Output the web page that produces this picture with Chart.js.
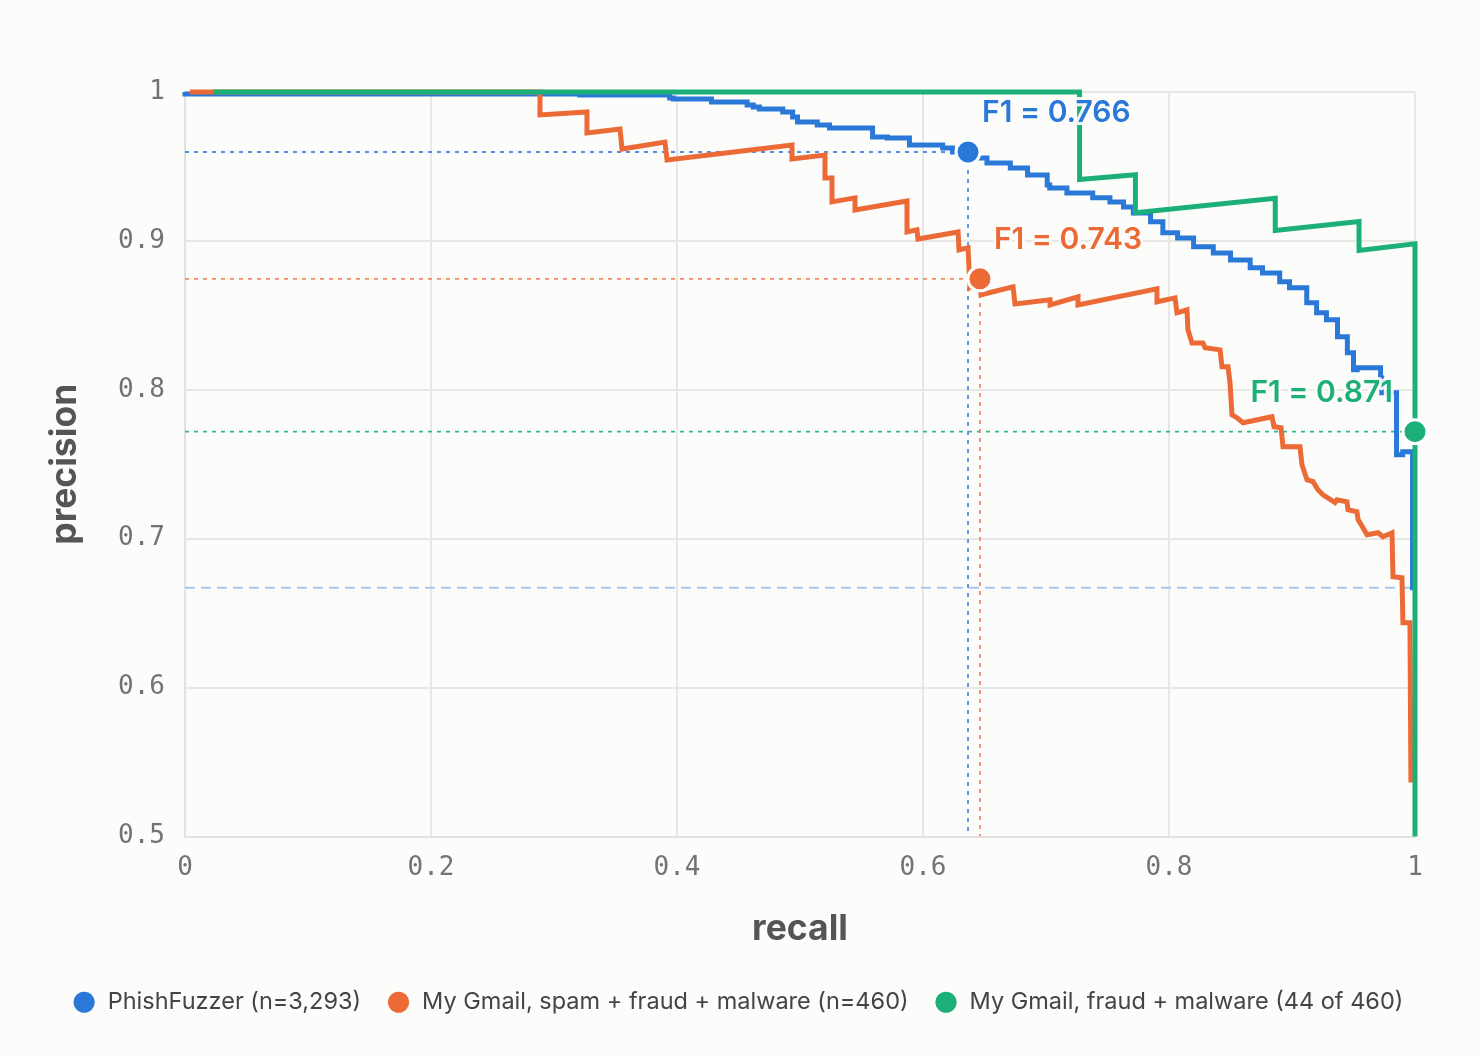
<!DOCTYPE html>
<html><head><meta charset="utf-8">
<script src="https://cdn.jsdelivr.net/npm/chart.js@4.4.1/dist/chart.umd.min.js"></script>
<style>html,body{margin:0;padding:0;background:#fcfcfb;} canvas{display:block;}</style>
</head><body>
<canvas id="c" width="1480" height="1056"></canvas>
<script>
// ---------- data ----------
const seriesNames = ['PhishFuzzer (n=3,293)', 'My Gmail, spam + fraud + malware (n=460)', 'My Gmail, fraud + malware (44 of 460)'];
const seriesColors = ['#2a78d8', '#ec6a36', '#1caf7a'];
const guideColors = ['#4f8fe6', '#f08a64', '#35b887'];

const phishRecall = [0, 0.321, 0.394, 0.397, 0.428, 0.429, 0.457, 0.462, 0.467, 0.470, 0.486, 0.494, 0.498, 0.514, 0.524, 0.541, 0.559, 0.571, 0.589, 0.616, 0.624, 0.637, 0.652, 0.671, 0.685, 0.701, 0.703, 0.717, 0.738, 0.752, 0.763, 0.771, 0.785, 0.795, 0.807, 0.820, 0.836, 0.850, 0.866, 0.876, 0.890, 0.898, 0.912, 0.920, 0.928, 0.937, 0.945, 0.950, 0.953, 0.972, 0.973, 0.985, 0.990, 0.998, 1.0];
const phishPrecision = [1, 0.9987, 0.998, 0.996, 0.9953, 0.9933, 0.9933, 0.9913, 0.990, 0.9886, 0.9886, 0.9866, 0.9832, 0.9799, 0.9779, 0.9758, 0.9758, 0.9698, 0.9691, 0.9644, 0.9624, 0.9597, 0.9557, 0.9523, 0.9490, 0.9443, 0.9376, 0.9356, 0.9322, 0.9289, 0.9262, 0.9228, 0.9188, 0.9128, 0.9054, 0.9020, 0.8960, 0.8919, 0.8872, 0.8819, 0.8785, 0.8725, 0.8685, 0.8584, 0.8517, 0.8470, 0.8356, 0.8248, 0.8134, 0.8148, 0.808, 0.798, 0.7564, 0.7584, 0.667];

const spamRecall = [0.004, 0.2886, 0.2886, 0.3268, 0.3268, 0.3537, 0.3553, 0.3902, 0.3919, 0.4935, 0.4935, 0.5203, 0.5203, 0.5260, 0.5260, 0.5447, 0.5447, 0.5870, 0.5870, 0.5951, 0.5959, 0.6285, 0.6293, 0.6366, 0.6382, 0.6463, 0.6472, 0.6732, 0.6748, 0.7033, 0.7033, 0.7260, 0.7260, 0.7902, 0.7902, 0.8049, 0.8065, 0.8146, 0.8154, 0.8187, 0.8276, 0.8293, 0.8415, 0.8431, 0.8480, 0.8496, 0.8512, 0.8553, 0.8602, 0.8837, 0.8854, 0.8911, 0.8927, 0.9065, 0.9081, 0.9122, 0.9171, 0.9211, 0.9252, 0.9350, 0.9366, 0.9447, 0.9455, 0.9528, 0.9537, 0.9577, 0.9610, 0.9699, 0.9740, 0.9813, 0.9821, 0.9894, 0.9902, 0.9959, 0.9967];
const spamPrecision = [1, 1, 0.9846, 0.9866, 0.9725, 0.9752, 0.9617, 0.9664, 0.9544, 0.9644, 0.9550, 0.9577, 0.9423, 0.9423, 0.9262, 0.9289, 0.9208, 0.9268, 0.9060, 0.9074, 0.9013, 0.9060, 0.8940, 0.8953, 0.8691, 0.8745, 0.8638, 0.8691, 0.8577, 0.8604, 0.8570, 0.8624, 0.8570, 0.8678, 0.8591, 0.8617, 0.8517, 0.8537, 0.8403, 0.8315, 0.8315, 0.8282, 0.8268, 0.8154, 0.8154, 0.8047, 0.7832, 0.7812, 0.7779, 0.7819, 0.7752, 0.7745, 0.7617, 0.7617, 0.7497, 0.7396, 0.7383, 0.7329, 0.7295, 0.7242, 0.7262, 0.7248, 0.7195, 0.7181, 0.7128, 0.7074, 0.7027, 0.7040, 0.7013, 0.7040, 0.6745, 0.6738, 0.6436, 0.6436, 0.5362];

const fraudRecall = [0.0227, 0.7273, 0.7273, 0.7727, 0.7727, 0.8864, 0.8864, 0.9545, 0.9545, 1.0, 1.0];
const fraudPrecision = [1, 1, 0.9412, 0.9444, 0.9189, 0.9286, 0.9070, 0.9130, 0.8936, 0.8980, 0.0957];

const bestRecall = [0.6366, 0.6463, 1.0];
const bestPrecision = [0.9597, 0.8745, 0.7719];
const f1Scores = ['0.766', '0.743', '0.871'];
const baselinePrecision = 0.667;

const xTicks = [0, 0.2, 0.4, 0.6, 0.8, 1];
const xTickLabels = ['0', '0.2', '0.4', '0.6', '0.8', '1'];
const yTicks = [0.5, 0.6, 0.7, 0.8, 0.9, 1];
const yTickLabels = ['0.5', '0.6', '0.7', '0.8', '0.9', '1'];
const xMin = 0, xMax = 1, yMin = 0.5, yMax = 1;

// ---------- build ----------
const toPts = (rs, ps) => rs.map((r, i) => ({x: r, y: ps[i]}));
const lineClip = {left: 4, top: 4, right: 4, bottom: 0};
const curve = (i, rs, ps, order, stepped) => ({
  label: seriesNames[i], data: toPts(rs, ps), showLine: true, stepped: stepped,
  borderColor: seriesColors[i], backgroundColor: seriesColors[i], borderWidth: 5,
  pointRadius: 0, pointHoverRadius: 0, order: order, clip: lineClip,
  borderJoinStyle: 'miter', borderCapStyle: 'butt'
});
const guide = (pts, color, dash, width) => ({
  label: '_guide', data: pts, showLine: true, borderColor: color, borderWidth: width,
  borderDash: dash, pointRadius: 0, order: 10
});

const datasets = [
  curve(0, phishRecall, phishPrecision, 3, 'after'),
  curve(1, spamRecall, spamPrecision, 2, false),
  curve(2, fraudRecall, fraudPrecision, 1, false),
  { label: '_markers', data: toPts(bestRecall, bestPrecision), showLine: false, clip: false,
    pointRadius: 12, pointHoverRadius: 12, pointBackgroundColor: seriesColors,
    pointBorderColor: '#ffffff', pointBorderWidth: 3, order: 0 },
  guide([{x: xMin, y: bestPrecision[0]}, {x: bestRecall[0], y: bestPrecision[0]}, {x: bestRecall[0], y: yMin}], guideColors[0], [4, 5], 1.8),
  guide([{x: xMin, y: bestPrecision[1]}, {x: bestRecall[1], y: bestPrecision[1]}, {x: bestRecall[1], y: yMin}], guideColors[1], [4, 5], 1.8),
  guide([{x: xMin, y: bestPrecision[2]}, {x: bestRecall[2], y: bestPrecision[2]}], guideColors[2], [4, 5], 1.8),
  guide([{x: xMin, y: baselinePrecision}, {x: xMax, y: baselinePrecision}], '#a9c6f1', [10, 6], 2)
];

const f1Plugin = {
  id: 'f1labels',
  afterDatasetsDraw(chart) {
    const {ctx, chartArea, scales: {x, y}} = chart;
    ctx.save();
    ctx.font = '600 30px Inter, "Noto Sans", sans-serif';
    ctx.textBaseline = 'middle';
    ctx.textAlign = 'left';
    ctx.lineJoin = 'round';
    bestRecall.forEach((r, i) => {
      const text = 'F1 = ' + f1Scores[i];
      const w = ctx.measureText(text).width;
      let px = x.getPixelForValue(r) + 14;
      px = Math.min(px, chartArea.right - 22 - w);
      const py = y.getPixelForValue(bestPrecision[i]) - 39;
      ctx.strokeStyle = 'rgba(252,252,251,0.9)';
      ctx.lineWidth = 6;
      ctx.strokeText(text, px, py);
      ctx.fillStyle = seriesColors[i];
      ctx.fillText(text, px, py);
    });
    ctx.restore();
  }
};

new Chart(document.getElementById('c'), {
  type: 'scatter',
  data: { datasets },
  plugins: [f1Plugin],
  options: {
    responsive: false, animation: false, devicePixelRatio: 1,
    layout: { padding: { left: 0, right: 0, top: 92, bottom: 32 } },
    plugins: {
      tooltip: { enabled: false },
      legend: {
        position: 'bottom',
        labels: {
          usePointStyle: true, pointStyle: 'circle', boxWidth: 15, boxHeight: 15, padding: 30,
          color: '#444', font: { family: 'Inter, "Noto Sans", sans-serif', size: 23.5 },
          generateLabels(chart) {
            const items = Chart.defaults.plugins.legend.labels.generateLabels(chart);
            return items.filter(it => it.datasetIndex < 3)
              .sort((a, b) => a.datasetIndex - b.datasetIndex)
              .map(it => Object.assign(it, { lineWidth: 0, pointStyle: 'circle', text: '\u2009' + it.text }));
          }
        }
      }
    },
    scales: {
      x: {
        type: 'linear', min: xMin, max: xMax,
        afterBuildTicks: s => { s.ticks = xTicks.map(v => ({value: v})); },
        afterFit: s => { s.height = 124; },
        ticks: { callback: (v) => xTickLabels[xTicks.indexOf(v)], color: '#737373', padding: 16, maxRotation: 0,
                 font: { family: '"DejaVu Sans Mono", monospace', size: 26 } },
        grid: { color: '#e7e7e6', lineWidth: 2, drawTicks: false },
        border: { color: '#e2e2e1', width: 2 },
        title: { display: true, text: 'recall', color: '#555',
                 font: { family: 'Inter, "Noto Sans", sans-serif', size: 35.5, weight: 'bold' },
                 padding: { top: 0, bottom: 10 } }
      },
      y: {
        type: 'linear', min: yMin, max: yMax,
        afterBuildTicks: s => { s.ticks = yTicks.map(v => ({value: v})); },
        afterFit: s => { s.width = 185; },
        ticks: { callback: (v) => yTickLabels[yTicks.indexOf(v)], color: '#737373', padding: 20,
                 font: { family: '"DejaVu Sans Mono", monospace', size: 26 } },
        grid: { color: '#e7e7e6', lineWidth: 2, drawTicks: false },
        border: { color: '#e2e2e1', width: 2 },
        title: { display: true, text: 'precision', color: '#555',
                 font: { family: 'Inter, "Noto Sans", sans-serif', size: 35.5, weight: 'bold' },
                 padding: { top: 44, bottom: 0 } }
      },
      yRightSpace: {
        type: 'linear', position: 'right', min: yMin, max: yMax, display: true,
        afterFit: s => { s.width = 65; },
        ticks: { display: false },
        grid: { display: false, drawTicks: false },
        border: { display: false },
        title: { display: false }
      }
    }
  }
});
</script>
</body></html>
